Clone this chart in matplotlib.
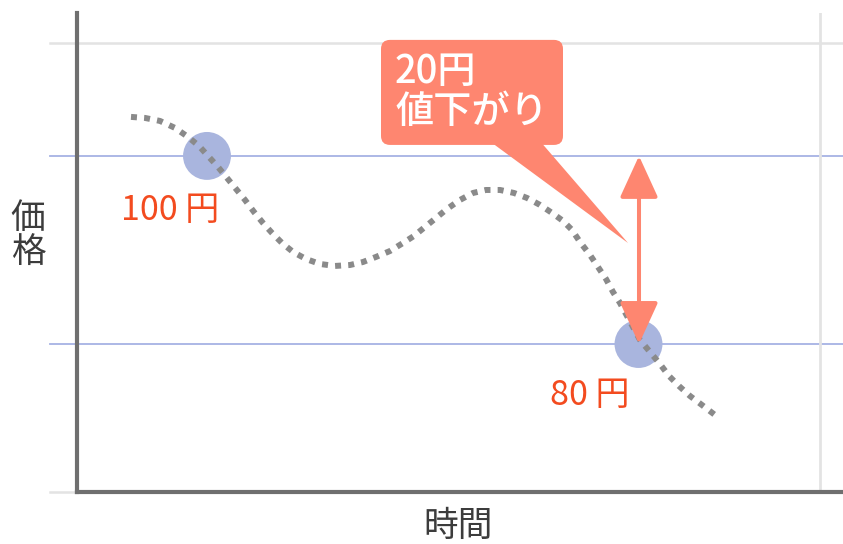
import matplotlib
matplotlib.use("Agg")
import matplotlib.pyplot as plt
from matplotlib.patches import FancyBboxPatch, Polygon, FancyArrowPatch, ArrowStyle

plt.rcParams['font.family'] = ['Noto Sans CJK JP', 'DejaVu Sans']

# ---- data (time units, price in yen) ----
curve_t = [54, 68, 83, 98, 111, 122, 131, 141, 150, 159, 168, 177, 186, 195, 205,
           216, 229, 243, 258, 273, 286, 299, 313, 326, 337, 348, 359, 370, 383,
           396, 409, 423, 437, 450, 463, 475, 486, 495, 503, 513, 521, 529, 536,
           543, 550, 557, 563, 573, 583, 592, 602, 613, 625, 638]
curve_price = [104.15, 104.04, 103.72, 102.98, 102.02, 101.06, 100.0, 98.83, 97.66,
               96.49, 95.32, 94.04, 92.87, 91.81, 90.74, 89.79, 89.04, 88.51, 88.30,
               88.40, 88.72, 89.26, 89.89, 90.74, 91.49, 92.45, 93.40, 94.36, 95.32,
               96.06, 96.38, 96.38, 96.06, 95.53, 94.79, 93.94, 93.09, 92.13, 90.85,
               89.47, 88.19, 86.91, 85.53, 84.36, 82.98, 81.60, 80.43, 79.15, 77.87,
               76.60, 75.53, 74.47, 73.51, 72.45]
point_t = [130, 561.5]
point_price = [100, 80]
point_labels = ["100 円", "80 円"]
drop_label = "20円\n値下がり"
x_label = "時間"
y_label = "価\n格"

XMIN, XMAX = 0, 766
YMIN, YMAX = 64.26, 115.2
grid_gray = [112.0]
grid_blue = [100, 80]
vline_t = 743

fig = plt.figure(figsize=(8.43, 5.44), dpi=100)
ax = fig.add_axes([77 / 843, 52 / 544, 766 / 843, 479 / 544])
ax.set_xlim(XMIN, XMAX)
ax.set_ylim(YMIN, YMAX)
ax.set_xticks([])
ax.set_yticks([])
for s in ['top', 'right']:
    ax.spines[s].set_visible(False)
for s in ['left', 'bottom']:
    ax.spines[s].set_color('#6f6f6f')
    ax.spines[s].set_linewidth(3.0)
    ax.spines[s].set_zorder(6)

stub = -27 / 766
for g in grid_gray:
    ax.axhline(g, xmin=stub, xmax=1, color='#e3e3e3', lw=1.8, clip_on=False, zorder=1)
ax.axhline(YMIN, xmin=stub, xmax=0, color='#e3e3e3', lw=1.8, clip_on=False, zorder=1)
for g in grid_blue:
    ax.axhline(g, xmin=stub, xmax=1, color='#a6b2e4', lw=1.3, clip_on=False, zorder=1)
ax.axvline(vline_t, color='#e3e3e3', lw=2.0, zorder=1)

# circles
ax.scatter(point_t, point_price, s=1190, color='#a9b5de', edgecolor='none', zorder=2)

# dotted curve
ax.plot(curve_t, curve_price, color='#8a8a8a', lw=4.3, linestyle=(0, (1, 1.2)),
        dash_capstyle='butt', zorder=3)

# point labels
red = '#f34b1f'
ax.text(93, 94.15, point_labels[0], color=red, fontsize=24.5, ha='center', va='center', zorder=5)
ax.text(513, 74.5, point_labels[1], color=red, fontsize=24.5, ha='center', va='center', zorder=5)

# double arrow
salmon = '#fe8670'
arr = FancyArrowPatch((562, 100.0), (562, 80.0),
                      arrowstyle=ArrowStyle('<|-|>', head_length=26, head_width=11.9),
                      mutation_scale=1, color=salmon, lw=2.9, shrinkA=0, shrinkB=0, zorder=4)
ax.add_patch(arr)

# callout
ppy = 9.4  # pixels per yen (for rounding correction)
box = FancyBboxPatch((304, 101.17), 182, 11.17,
                     boxstyle="round,pad=0,rounding_size=9", mutation_aspect=1 / ppy,
                     facecolor=salmon, edgecolor='none', zorder=4)
ax.add_patch(box)
tail = Polygon([(411, 101.7), (462, 101.7), (551, 90.74)], closed=True,
               facecolor=salmon, edgecolor='none', zorder=4)
ax.add_patch(tail)
ax.text(318, 106.8, drop_label, color='white', fontsize=27.5, fontweight='medium',
        ha='left', va='center', linespacing=1.0, zorder=5)

# axis labels
fig.text(458 / 843, 1 - 526 / 544, x_label, color='#3c3c3c', fontsize=25,
         ha='center', va='center')
fig.text(28 / 843, 1 - 236 / 544, y_label, color='#3c3c3c', fontsize=25,
         ha='center', va='center', linespacing=0.98)

fig.savefig('out.png', dpi=100)
